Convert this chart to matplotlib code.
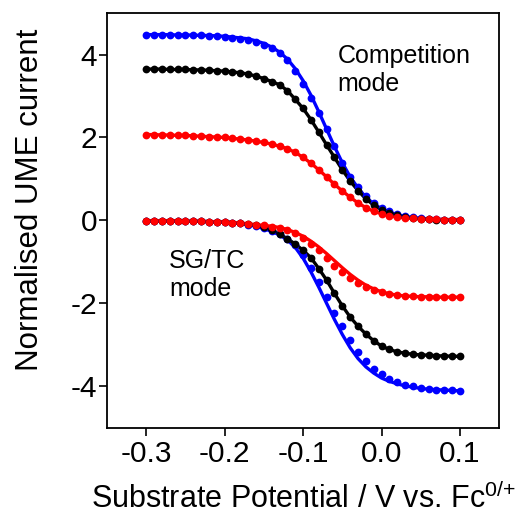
import numpy as np
import matplotlib
matplotlib.use("Agg")
import matplotlib.pyplot as plt

plt.rcParams['font.family'] = ['Liberation Sans', 'DejaVu Sans']
plt.rcParams['mathtext.fontset'] = 'custom'
plt.rcParams['mathtext.rm'] = 'Liberation Sans'
plt.rcParams['mathtext.default'] = 'regular'

# potential axis, V vs. Fc0/+
potential = np.round(np.arange(-0.30, 0.1001, 0.01), 2)

# competition mode (measured points)
comp_blue = [4.48, 4.48, 4.48, 4.47, 4.47, 4.47, 4.46, 4.46, 4.45, 4.44,
             4.43, 4.41, 4.38, 4.35, 4.30, 4.24, 4.15, 4.04, 3.86, 3.60,
             3.30, 2.95, 2.60, 2.20, 1.80, 1.38, 1.05, 0.80, 0.58, 0.42,
             0.30, 0.22, 0.15, 0.11, 0.08, 0.06, 0.04, 0.03, 0.02, 0.02, 0.02]
comp_black = [3.65, 3.65, 3.65, 3.64, 3.64, 3.64, 3.63, 3.63, 3.62, 3.61,
              3.60, 3.58, 3.56, 3.53, 3.48, 3.42, 3.35, 3.27, 3.13, 2.92,
              2.70, 2.43, 2.13, 1.82, 1.52, 1.22, 0.95, 0.72, 0.52, 0.37,
              0.26, 0.18, 0.12, 0.08, 0.06, 0.04, 0.03, 0.02, 0.02, 0.01, 0.01]
comp_red = [2.07, 2.07, 2.06, 2.06, 2.05, 2.05, 2.04, 2.03, 2.02, 2.01,
            2.00, 1.98, 1.96, 1.94, 1.91, 1.88, 1.84, 1.79, 1.73, 1.64,
            1.52, 1.38, 1.22, 1.05, 0.87, 0.71, 0.56, 0.42, 0.31, 0.22,
            0.16, 0.11, 0.08, 0.06, 0.05, 0.04, 0.03, 0.03, 0.02, 0.02, 0.02]

# competition mode (fits)
comp_blue_fit = [4.48, 4.48, 4.48, 4.48, 4.47, 4.47, 4.47, 4.46, 4.46, 4.45,
                 4.44, 4.42, 4.40, 4.38, 4.33, 4.27, 4.18, 4.06, 3.89, 3.66,
                 3.37, 3.02, 2.62, 2.20, 1.78, 1.39, 1.05, 0.78, 0.56, 0.40,
                 0.28, 0.20, 0.14, 0.10, 0.07, 0.05, 0.04, 0.03, 0.02, 0.02, 0.02]
comp_black_fit = comp_black
comp_red_fit = comp_red

# SG/TC mode (measured points)
sgtc_blue = [-0.01, -0.01, -0.01, -0.01, -0.01, -0.02, -0.02, -0.02, -0.03, -0.03,
             -0.04, -0.05, -0.07, -0.10, -0.14, -0.19, -0.25, -0.33, -0.44, -0.60,
             -0.84, -1.15, -1.48, -1.84, -2.22, -2.55, -2.89, -3.16, -3.40, -3.58,
             -3.71, -3.82, -3.90, -3.96, -4.00, -4.04, -4.06, -4.08, -4.09, -4.10, -4.11]
sgtc_black = [-0.01, -0.01, -0.01, -0.01, -0.01, -0.02, -0.02, -0.02, -0.03, -0.03,
              -0.04, -0.05, -0.07, -0.09, -0.12, -0.17, -0.24, -0.33, -0.44, -0.57,
              -0.72, -0.90, -1.16, -1.44, -1.76, -2.06, -2.33, -2.55, -2.74, -2.90,
              -3.03, -3.11, -3.17, -3.20, -3.23, -3.24, -3.25, -3.26, -3.27, -3.27, -3.28]
sgtc_red = [-0.01, -0.01, -0.01, -0.01, -0.01, -0.02, -0.02, -0.02, -0.03, -0.03,
            -0.04, -0.05, -0.06, -0.08, -0.10, -0.12, -0.15, -0.18, -0.23, -0.31,
            -0.43, -0.56, -0.71, -0.90, -1.09, -1.24, -1.38, -1.50, -1.60, -1.68,
            -1.73, -1.77, -1.80, -1.82, -1.83, -1.84, -1.84, -1.85, -1.85, -1.85, -1.85]

# SG/TC mode (fits)
sgtc_blue_fit = [-0.01, -0.01, -0.01, -0.01, -0.01, -0.02, -0.02, -0.02, -0.03, -0.03,
                 -0.04, -0.05, -0.07, -0.10, -0.14, -0.20, -0.26, -0.35, -0.47, -0.65,
                 -0.91, -1.24, -1.61, -2.00, -2.39, -2.75, -3.07, -3.33, -3.53, -3.68,
                 -3.80, -3.88, -3.94, -3.99, -4.02, -4.05, -4.07, -4.08, -4.09, -4.10, -4.11]
sgtc_black_fit = sgtc_black
sgtc_red_fit = [-0.01, -0.01, -0.01, -0.01, -0.01, -0.02, -0.02, -0.02, -0.03, -0.03,
                -0.04, -0.05, -0.06, -0.08, -0.10, -0.12, -0.14, -0.17, -0.22, -0.29,
                -0.38, -0.50, -0.64, -0.80, -0.97, -1.14, -1.30, -1.44, -1.56, -1.65,
                -1.72, -1.77, -1.80, -1.82, -1.83, -1.84, -1.84, -1.85, -1.85, -1.85, -1.85]

series = [
    (comp_blue, comp_blue_fit, 'blue'),
    (comp_black, comp_black_fit, 'black'),
    (comp_red, comp_red_fit, 'red'),
    (sgtc_blue, sgtc_blue_fit, 'blue'),
    (sgtc_black, sgtc_black_fit, 'black'),
    (sgtc_red, sgtc_red_fit, 'red'),
]

fig = plt.figure(figsize=(5.19, 5.23), dpi=100)
ax = fig.add_axes([0.206, 0.182, 0.756, 0.793])

for pts, fit, col in series:
    ax.plot(potential, fit, color=col, linewidth=2.4, zorder=2)
    ax.plot(potential, pts, 'o', color=col, markersize=5.6, markeredgewidth=0, zorder=3)

ax.set_xlim(-0.35, 0.15)
ax.set_ylim(-5, 5)
ax.set_xticks([-0.3, -0.2, -0.1, 0.0, 0.1])
ax.set_xticklabels(['-0.3', '-0.2', '-0.1', '0.0', '0.1'])
ax.set_yticks([-4, -2, 0, 2, 4])
ax.set_yticklabels(['-4', '-2', '0', '2', '4'])
ax.tick_params(axis='both', direction='out', length=5.5, width=1.2, labelsize=21.5,
               top=False, right=False)
ax.tick_params(axis='x', pad=3)
ax.tick_params(axis='y', pad=1.5)
for sp in ax.spines.values():
    sp.set_linewidth(1.3)

ax.set_xlabel(r'Substrate Potential / V vs. Fc$^{0/{+}}$', fontsize=22, labelpad=11)
ax.set_ylabel('Normalised UME current', fontsize=22.5)
ax.yaxis.set_label_coords(-0.158, 0.55)

# va='baseline' on two-line text sits on the last line's baseline
ax.text(-0.056, 3.12, 'Competition\nmode', fontsize=18, va='baseline', ha='left',
        linespacing=1.2)
ax.text(-0.271, -1.82, 'SG/TC\nmode', fontsize=18, va='baseline', ha='left',
        linespacing=1.2)

fig.savefig('out.png', dpi=100)
